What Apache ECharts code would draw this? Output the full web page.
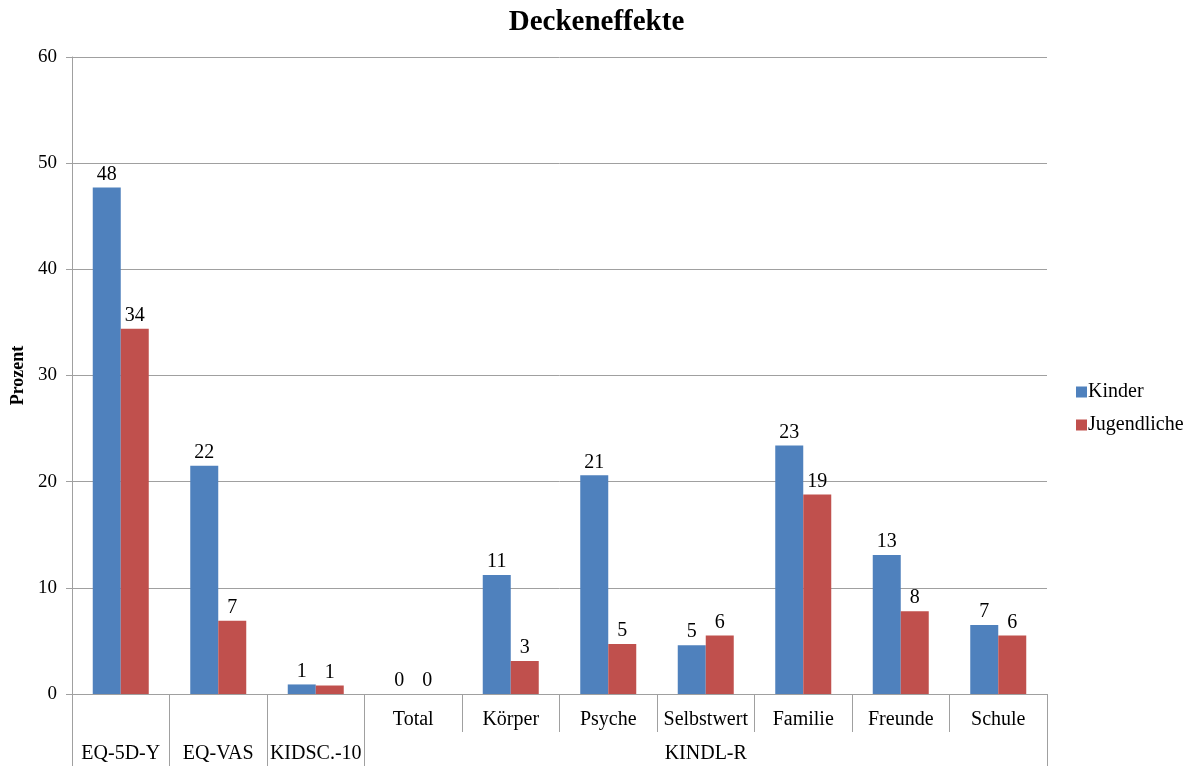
<!DOCTYPE html>
<html>
<head>
<meta charset="utf-8">
<title>Deckeneffekte</title>
<script src="https://cdn.jsdelivr.net/npm/echarts@6/dist/echarts.min.js"></script>
<style>
  html, body { margin: 0; padding: 0; background: #fff; }
  #chart { width: 1193px; height: 766px; }
</style>
</head>
<body>
<div id="chart"></div>
<script>
// Instruments / subscales (one bar pair per category)
const categories = ['EQ-5D-Y', 'EQ-VAS', 'KIDSC.-10', 'Total', 'Körper', 'Psyche', 'Selbstwert', 'Familie', 'Freunde', 'Schule'];
// First label row (sub-scales of KINDL-R); the single instruments have none
const subLabels = ['', '', '', 'Total', 'Körper', 'Psyche', 'Selbstwert', 'Familie', 'Freunde', 'Schule'];
// Second label row: instrument groups and how many categories each spans
const groupLabels = ['EQ-5D-Y', 'EQ-VAS', 'KIDSC.-10', 'KINDL-R'];
const groupSpans = [1, 1, 1, 7];

// Ceiling effects in percent
const kinder = [47.7, 21.5, 0.9, 0, 11.2, 20.6, 4.6, 23.4, 13.1, 6.5];
const jugendliche = [34.4, 6.9, 0.8, 0, 3.1, 4.7, 5.5, 18.8, 7.8, 5.5];

const yTicks = { min: 0, max: 60, interval: 10 };

// group boundaries and centres on a 0..N scale
const groupEdges = [0];
groupSpans.forEach(s => groupEdges.push(groupEdges[groupEdges.length - 1] + s));
const groupCenters = groupSpans.map((s, i) => groupEdges[i] + s / 2);
// full-height separators: around the single instruments and at the outer edges
const fullSeparators = groupEdges;

const serif = '"Liberation Serif", "Times New Roman", serif';
const lineGray = '#a0a0a0';

const chart = echarts.init(document.getElementById('chart'), null, { renderer: 'canvas' });

const labelOpt = {
  show: true,
  position: 'top',
  distance: 3,
  fontFamily: serif,
  fontSize: 20,
  color: '#000',
  formatter: p => String(Math.round(p.value))
};

chart.setOption({
  animation: false,
  backgroundColor: '#fff',
  title: {
    text: 'Deckeneffekte',
    left: 'center',
    top: 3,
    textStyle: { fontFamily: serif, fontSize: 29, fontWeight: 'bold', color: '#000' }
  },
  legend: {
    orient: 'vertical',
    left: 1071,
    top: 377,
    itemWidth: 11,
    itemHeight: 11,
    itemGap: 13,
    icon: 'rect',
    textStyle: { fontFamily: serif, fontSize: 20, color: '#000', padding: [0, 0, 0, -4] },
    data: ['Kinder', 'Jugendliche']
  },
  grid: { left: 72, right: 146, top: 57, bottom: 72, containLabel: false, outerBoundsMode: 'none' },
  xAxis: [
    {
      type: 'category',
      data: categories,
      position: 'bottom',
      axisLine: { show: true, lineStyle: { color: lineGray } },
      axisTick: { show: true, alignWithLabel: false, interval: 0, length: 38, lineStyle: { color: lineGray } },
      axisLabel: {
        interval: 0,
        margin: 16,
        fontFamily: serif,
        fontSize: 20,
        color: '#000',
        formatter: (v, i) => subLabels[i]
      },
      splitLine: { show: false }
    },
    {
      type: 'value',
      min: 0,
      max: categories.length,
      position: 'bottom',
      offset: 38,
      axisLine: { show: false },
      axisTick: { show: true, customValues: fullSeparators, length: 34, inside: false, lineStyle: { color: lineGray } },
      axisLabel: {
        show: true,
        customValues: groupCenters,
        margin: 12,
        fontFamily: serif,
        fontSize: 20,
        color: '#000',
        formatter: v => {
          const i = groupCenters.indexOf(v);
          return i >= 0 ? groupLabels[i] : '';
        }
      },
      splitLine: { show: false }
    }
  ],
  yAxis: {
    type: 'value',
    min: yTicks.min,
    max: yTicks.max,
    interval: yTicks.interval,
    name: 'Prozent',
    nameLocation: 'middle',
    nameGap: 45,
    nameTextStyle: { fontFamily: serif, fontSize: 18, fontWeight: 'bold', color: '#000' },
    axisLine: { show: true, lineStyle: { color: lineGray } },
    axisTick: { show: true, length: 6, lineStyle: { color: lineGray } },
    axisLabel: { fontFamily: serif, fontSize: 19, color: '#000', margin: 15 },
    splitLine: { show: true, lineStyle: { color: lineGray, width: 1 } }
  },
  series: [
    {
      name: 'Kinder',
      type: 'bar',
      xAxisIndex: 0,
      data: kinder,
      barWidth: 28,
      barGap: '0%',
      itemStyle: { color: '#4F81BD' },
      label: labelOpt
    },
    {
      name: 'Jugendliche',
      type: 'bar',
      xAxisIndex: 0,
      data: jugendliche,
      barWidth: 28,
      barGap: '0%',
      itemStyle: { color: '#C0504D' },
      label: labelOpt
    }
  ]
});
</script>
</body>
</html>
